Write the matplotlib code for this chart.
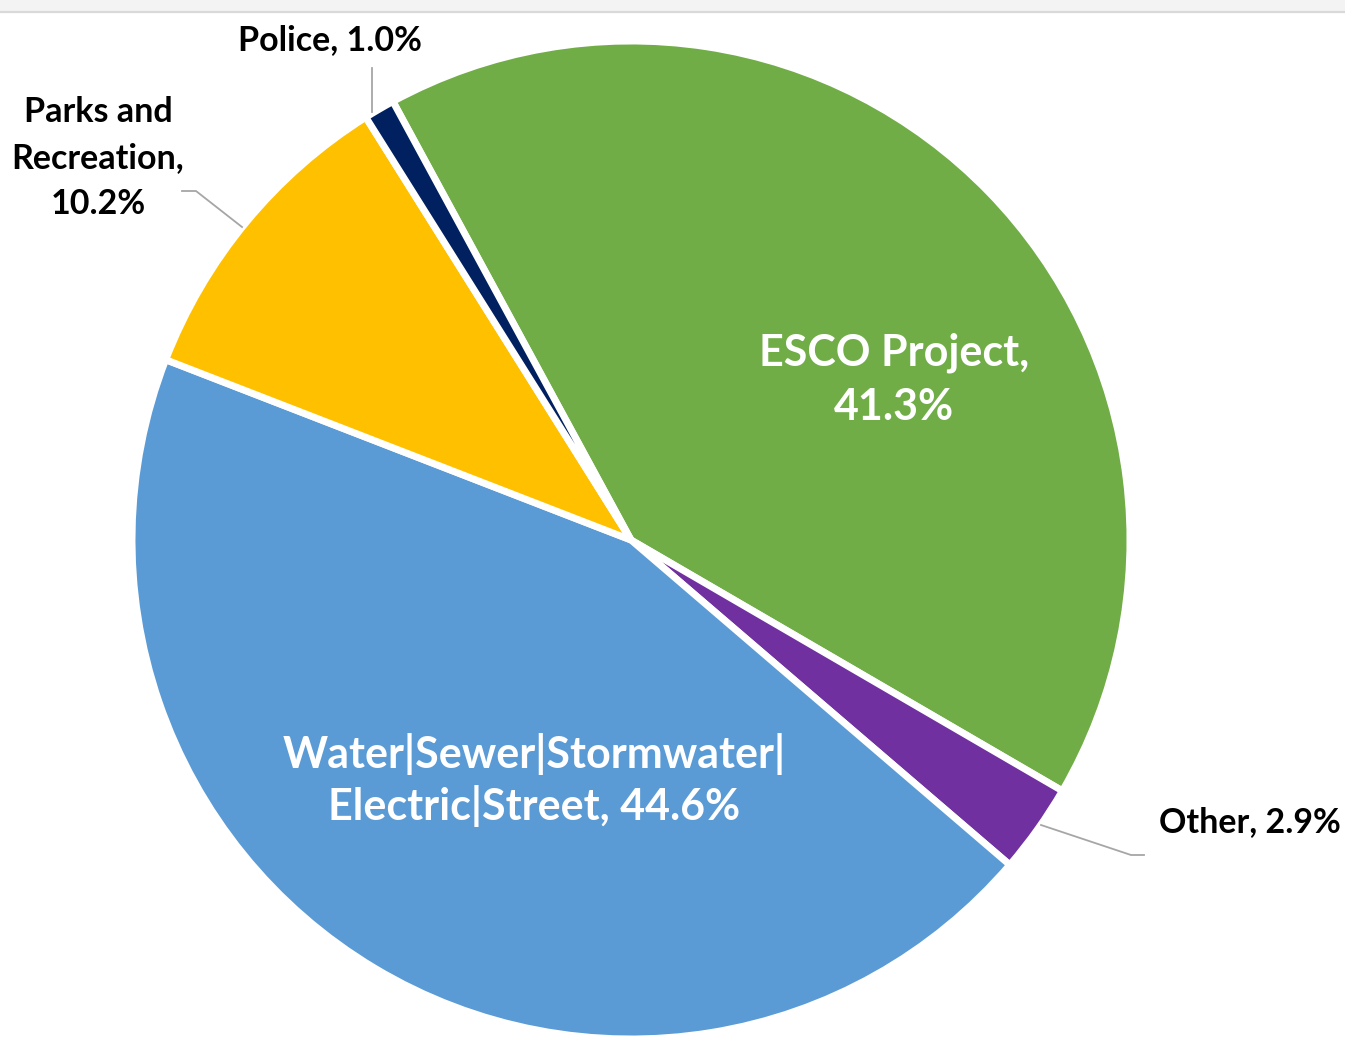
import matplotlib
matplotlib.use('Agg')
import matplotlib.pyplot as plt
from matplotlib.patches import Rectangle

# slice data, clockwise from the ESCO slice
categories = ['ESCO Project', 'Other', 'Water|Sewer|Stormwater|\nElectric|Street',
              'Parks and\nRecreation', 'Police']
shares = [41.3, 2.9, 44.6, 10.2, 1.0]
slice_colors = ['#70AD47', '#7030A0', '#5B9BD5', '#FFC000', '#002060']

W, H = 1345, 1041
fig = plt.figure(figsize=(W / 100, H / 100), dpi=100)
ax = fig.add_axes([0, 0, 1, 1])

def py(y):
    # pixel row (from top) -> data y
    return H - y

# light gray strip at the top like the screenshot
ax.add_patch(Rectangle((0, py(12)), W, 12, color='#F3F3F3', zorder=0))
ax.plot([0, W], [py(12), py(12)], color='#D9D9D9', lw=1.5, zorder=1)

cx, cy, r = 631, py(540), 499
wedges, _ = ax.pie(shares, colors=slice_colors, startangle=118.5, counterclock=False,
                   center=(cx, cy), radius=r, frame=True,
                   wedgeprops=dict(edgecolor='white', linewidth=5))
ax.set_xlim(0, W)
ax.set_ylim(0, H)
ax.set_aspect('equal')
ax.axis('off')

font = 'Lato'
pct = ['%.1f%%' % v for v in shares]

# inside labels
ax.text(894, py(380), categories[0] + ',\n' + pct[0], color='white', fontsize=31,
        fontweight='bold', family=font, ha='center', va='center', linespacing=1.42)
ax.text(534, py(780), categories[2] + ', ' + pct[2], color='white', fontsize=31,
        fontweight='bold', family=font, ha='center', va='center', linespacing=1.29)

# outside labels
ax.text(330, py(40), categories[4] + ', ' + pct[4], color='black', fontsize=24.5,
        fontweight='bold', family=font, ha='center', va='center')
ax.text(98, py(158), categories[3] + ',\n' + pct[3], color='black', fontsize=24.5,
        fontweight='bold', family=font, ha='center', va='center', linespacing=1.52)
ax.text(1159, py(822), categories[1] + ', ' + pct[1], color='black', fontsize=24.5,
        fontweight='bold', family=font, ha='left', va='center')

# leader lines
lc = '#A6A6A6'
ax.plot([372, 372], [py(68), py(112)], color=lc, lw=1.3)
ax.plot([182, 196, 242], [py(191), py(191), py(227)], color=lc, lw=1.3)
ax.plot([1041, 1131, 1144], [py(825), py(855), py(855)], color=lc, lw=1.3)

fig.savefig('out.png', dpi=100, facecolor='white')
